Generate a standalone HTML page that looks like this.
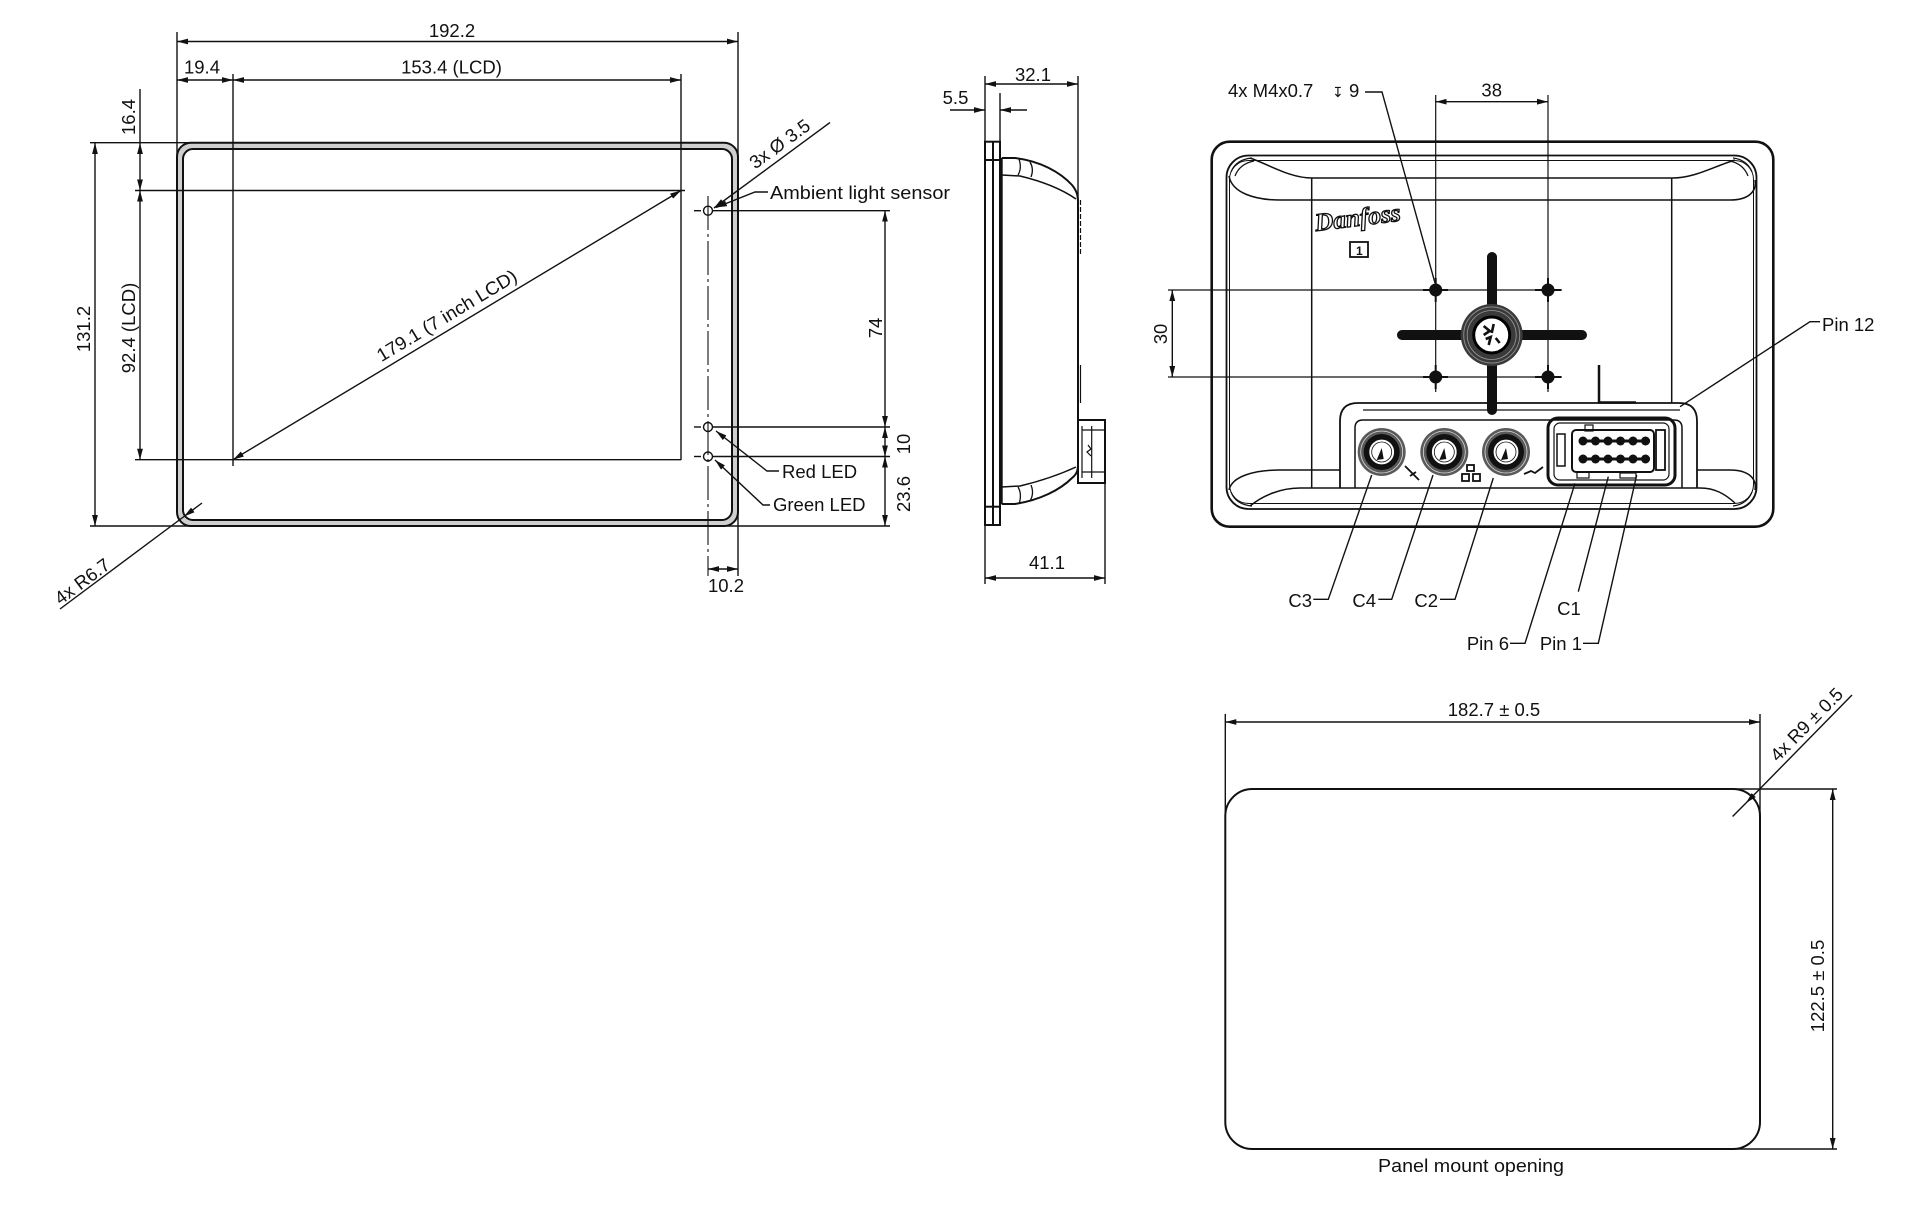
<!DOCTYPE html>
<html><head><meta charset="utf-8">
<style>
html,body{margin:0;padding:0;background:#fff;}
svg{display:block;}
text{font-family:"Liberation Sans",sans-serif;font-size:18.5px;fill:#111;}
</style></head><body>
<svg width="1920" height="1207" viewBox="0 0 1920 1207" xmlns="http://www.w3.org/2000/svg">
<defs>
<marker id="ar" viewBox="0 0 11 7" refX="11" refY="3.5" markerWidth="11" markerHeight="7" markerUnits="userSpaceOnUse" orient="auto-start-reverse">
<path d="M0,0.6 L11,3.5 L0,6.4 Z" fill="#111"/>
</marker>
</defs>
<rect width="1920" height="1207" fill="#fff"/>

<!-- ================= FRONT VIEW ================= -->
<path fill-rule="evenodd" fill="#cfcfcf" stroke="#111" stroke-width="2"
 d="M191,142.7 H724 A14,14 0 0 1 738,156.7 V512 A14,14 0 0 1 724,526 H191 A14,14 0 0 1 177,512 V156.7 A14,14 0 0 1 191,142.7 Z
    M193,149 H722 A10,10 0 0 1 732,159 V510 A10,10 0 0 1 722,520 H193 A10,10 0 0 1 183,510 V159 A10,10 0 0 1 193,149 Z"/>

<g fill="none" stroke="#111" stroke-width="1.4">
 <line x1="177" y1="32" x2="177" y2="160"/>
 <line x1="738" y1="32" x2="738" y2="160"/>
 <line x1="738" y1="505" x2="738" y2="576"/>
 <line x1="90" y1="142.7" x2="190" y2="142.7"/>
 <line x1="90" y1="526" x2="192" y2="526"/>
 <line x1="722" y1="526" x2="890" y2="526"/>
 <line x1="140" y1="89" x2="140" y2="143"/>
 <line x1="233" y1="74" x2="233" y2="466"/>
 <line x1="681" y1="74" x2="681" y2="460"/>
 <line x1="135" y1="190.5" x2="685" y2="190.5"/>
 <line x1="135" y1="459.7" x2="681" y2="459.7"/>
 <line x1="713" y1="210.7" x2="890" y2="210.7"/>
 <line x1="713" y1="427" x2="890" y2="427"/>
 <line x1="713" y1="456.5" x2="890" y2="456.5"/>
 <line x1="708" y1="196" x2="708" y2="576" stroke-dasharray="34 4 3 4" stroke-width="1.1"/>
 <line x1="694" y1="210.7" x2="701" y2="210.7"/>
 <line x1="694" y1="427" x2="701" y2="427"/>
 <line x1="694" y1="456.5" x2="701" y2="456.5"/>
 <circle cx="708" cy="210.7" r="4.5"/>
 <circle cx="708" cy="427" r="4.5"/>
 <circle cx="708" cy="456.5" r="4.5"/>

 <line x1="177" y1="41.5" x2="738" y2="41.5" marker-start="url(#ar)" marker-end="url(#ar)"/>
 <line x1="177" y1="80" x2="233" y2="80" marker-start="url(#ar)" marker-end="url(#ar)"/>
 <line x1="233" y1="80" x2="681" y2="80" marker-start="url(#ar)" marker-end="url(#ar)"/>
 <line x1="140" y1="143" x2="140" y2="190.5" marker-start="url(#ar)" marker-end="url(#ar)"/>
 <line x1="140" y1="190.5" x2="140" y2="459.7" marker-start="url(#ar)" marker-end="url(#ar)"/>
 <line x1="95" y1="143" x2="95" y2="526" marker-start="url(#ar)" marker-end="url(#ar)"/>
 <line x1="233" y1="459.7" x2="681" y2="190.5" marker-start="url(#ar)" marker-end="url(#ar)"/>
 <line x1="885" y1="210.7" x2="885" y2="427" marker-start="url(#ar)" marker-end="url(#ar)"/>
 <line x1="885" y1="427" x2="885" y2="456.5" marker-start="url(#ar)" marker-end="url(#ar)"/>
 <line x1="885" y1="456.5" x2="885" y2="526" marker-start="url(#ar)" marker-end="url(#ar)"/>
 <line x1="708" y1="569" x2="738" y2="569" marker-start="url(#ar)" marker-end="url(#ar)"/>

 <line x1="202" y1="503" x2="184" y2="516.5" marker-end="url(#ar)"/>
 <line x1="184" y1="516.5" x2="60" y2="609"/>
 <line x1="830" y1="122.5" x2="714" y2="208" marker-end="url(#ar)"/>
 <polyline points="768,192 755,192 716,207.5" marker-end="url(#ar)"/>
 <polyline points="779,471 767,471 716,431" marker-end="url(#ar)"/>
 <polyline points="770,505 763,505 715,460" marker-end="url(#ar)"/>
</g>

<text x="452" y="37" text-anchor="middle">192.2</text>
<text x="202" y="73.5" text-anchor="middle">19.4</text>
<text x="451.5" y="73.5" text-anchor="middle">153.4 (LCD)</text>
<text transform="translate(135,117) rotate(-90)" text-anchor="middle">16.4</text>
<text transform="translate(135,328) rotate(-90)" text-anchor="middle">92.4 (LCD)</text>
<text transform="translate(90,329) rotate(-90)" text-anchor="middle">131.2</text>
<text transform="translate(450,321) rotate(-31.07)" text-anchor="middle" textLength="160" lengthAdjust="spacingAndGlyphs">179.1 (7 inch LCD)</text>
<text transform="translate(86,586.5) rotate(-36.7)" text-anchor="middle">4x R6.7</text>
<text transform="translate(783.5,149) rotate(-36.1)" text-anchor="middle">3x Ø 3.5</text>
<text x="770" y="199" textLength="180" lengthAdjust="spacingAndGlyphs">Ambient light sensor</text>
<text transform="translate(882,328) rotate(-90)" text-anchor="middle">74</text>
<text transform="translate(910,444) rotate(-90)" text-anchor="middle">10</text>
<text transform="translate(910,494) rotate(-90)" text-anchor="middle">23.6</text>
<text x="782" y="478">Red LED</text>
<text x="773" y="511">Green LED</text>
<text x="726" y="592" text-anchor="middle">10.2</text>

<!-- ================= SIDE VIEW ================= -->
<g fill="none" stroke="#111" stroke-width="1.4">
 <line x1="985" y1="76" x2="985" y2="584"/>
 <line x1="1000" y1="93" x2="1000" y2="141.7"/>
 <line x1="1078" y1="76" x2="1078" y2="200"/>
 <line x1="1105" y1="483" x2="1105" y2="584"/>
 <line x1="985" y1="84" x2="1078" y2="84" marker-start="url(#ar)" marker-end="url(#ar)"/>
 <line x1="950" y1="110" x2="985" y2="110" marker-end="url(#ar)"/>
 <line x1="1027" y1="110" x2="1000" y2="110" marker-end="url(#ar)"/>
 <line x1="985" y1="578" x2="1105" y2="578" marker-start="url(#ar)" marker-end="url(#ar)"/>
</g>
<g fill="none" stroke="#111" stroke-width="2">
 <rect x="985" y="141.7" width="15" height="383.3"/>
 <line x1="993" y1="141.7" x2="993" y2="525"/>
 <line x1="985" y1="160" x2="1000" y2="160"/>
 <line x1="985" y1="506.7" x2="1000" y2="506.7"/>
 <line x1="1001.7" y1="158" x2="1001.7" y2="504"/>
 <path d="M1001.7,158 L1015,158 C1040,161 1060,172 1072,185 C1077,191 1078,196 1078,202 L1078,465 C1078,470 1077,474 1072,478 C1060,490 1040,500 1015,504 L1001.7,504"/>
 <path d="M1001.7,175 L1020,176 C1045,182 1063,190 1076,199" stroke-width="1.5"/>
 <path d="M1001.7,487 L1020,486 C1045,480 1063,473 1076,467" stroke-width="1.5"/>
 <path d="M1019,159 C1021,165 1021,170 1018,175" stroke-width="1.3"/>
 <path d="M1030,162 C1033,167 1033,172 1031,177" stroke-width="1.3"/>
 <path d="M1019,504 C1021,498 1021,492 1018,487" stroke-width="1.3"/>
 <path d="M1030,501 C1033,496 1033,490 1031,485" stroke-width="1.3"/>
 <line x1="1080.5" y1="200" x2="1080.5" y2="256" stroke-width="1.2" stroke-dasharray="5 2"/>
 <line x1="1080.5" y1="365" x2="1080.5" y2="403" stroke-width="1.2"/>
 <rect x="1078" y="420" width="27" height="63"/>
 <line x1="1082" y1="426" x2="1082" y2="478" stroke-width="1.2"/>
 <line x1="1091.7" y1="426" x2="1091.7" y2="478" stroke-width="1.2"/>
 <line x1="1082" y1="430" x2="1105" y2="430" stroke-width="1.2"/>
 <line x1="1082" y1="472" x2="1105" y2="472" stroke-width="1.2"/>
 <path d="M1088,445 L1091,449 L1087,452 L1091,456" stroke-width="1.2"/>
</g>
<text x="1033" y="81" text-anchor="middle">32.1</text>
<text x="955.5" y="104" text-anchor="middle">5.5</text>
<text x="1047" y="569" text-anchor="middle">41.1</text>

<!-- ================= BACK VIEW ================= -->
<g fill="none" stroke="#111">
 <rect x="1211.7" y="141.7" width="561.6" height="385" rx="18" stroke-width="2.6"/>
 <rect x="1226.5" y="155.5" width="530" height="353.5" rx="22" stroke-width="1.8"/>
 <rect x="1229.5" y="160.5" width="524" height="343" rx="19" stroke-width="1"/>
 <path d="M1250,158 C1270,165 1290,178 1312,178 L1672,178 C1695,178 1715,166 1735,160" stroke-width="1.5"/>
 <path d="M1229,176 C1232,193 1255,200 1280,200 L1730,200 C1748,200 1757,192 1755,180" stroke-width="1.5"/>
 <path d="M1231,172 C1234,164 1241,159 1252,158 M1235,176 C1238,168 1244,163 1254,161" stroke-width="1.2"/>
 <path d="M1752,172 C1749,164 1742,159 1733,158 M1748,176 C1745,168 1739,163 1730,161" stroke-width="1.2"/>
 <path d="M1229,490 C1232,476 1255,470 1280,470 L1340,470" stroke-width="1.5"/>
 <path d="M1697,470 L1730,470 C1748,470 1757,478 1755,490" stroke-width="1.5"/>
 <path d="M1250,506 C1262,496 1280,488 1300,488 L1700,488 C1715,488 1725,494 1735,503" stroke-width="1.5"/>
 <path d="M1231,492 C1234,500 1241,505 1252,506" stroke-width="1.2"/>
 <path d="M1752,492 C1749,500 1742,505 1733,506" stroke-width="1.2"/>
 <line x1="1311.7" y1="178" x2="1311.7" y2="488" stroke-width="1.5"/>
 <line x1="1671.7" y1="178" x2="1671.7" y2="403" stroke-width="1.5"/>
 <line x1="1168" y1="290" x2="1562" y2="290" stroke-width="1.2"/>
 <line x1="1168" y1="377" x2="1562" y2="377" stroke-width="1.2"/>
 <line x1="1435.7" y1="95" x2="1435.7" y2="392" stroke-width="1.2"/>
 <line x1="1548" y1="95" x2="1548" y2="392" stroke-width="1.2"/>
 <line x1="1435.7" y1="101.7" x2="1548" y2="101.7" stroke-width="1.4" marker-start="url(#ar)" marker-end="url(#ar)"/>
 <line x1="1172.3" y1="290" x2="1172.3" y2="377" stroke-width="1.4" marker-start="url(#ar)" marker-end="url(#ar)"/>
 <polyline points="1599,365 1599,402.5 1636,402.5" stroke-width="2.5"/>
</g>
<g fill="#111" stroke="#111" stroke-width="2">
 <circle cx="1435.7" cy="290" r="5.5"/>
 <circle cx="1548" cy="290" r="5.5"/>
 <circle cx="1435.7" cy="377" r="5.5"/>
 <circle cx="1548" cy="377" r="5.5"/>
 <path d="M1423,290 H1448 M1435.7,278 V302 M1535,290 H1561 M1548,278 V302 M1423,377 H1448 M1435.7,365 V389 M1535,377 H1561 M1548,365 V389"/>
</g>
<rect x="1397" y="330" width="190" height="10" rx="5" fill="#111"/>
<rect x="1487" y="252" width="10" height="163" rx="5" fill="#111"/>
<g transform="translate(1491.7,335)">
 <circle r="31" fill="#3a3a3a"/>
 <circle r="28" fill="none" stroke="#8a8a8a" stroke-width="1"/>
 <circle r="24.5" fill="none" stroke="#9a9a9a" stroke-width="0.8"/>
 <circle r="18" fill="#fff" stroke="#000" stroke-width="3"/>
 <path d="M-8,-9 L-2,-4 L-8,0 M2,-11 L0,-2 M-6,4 L-1,2 L-3,10 M4,3 L8,8" stroke="#111" stroke-width="2.6" fill="none"/>
</g>
<text x="1316" y="231" transform="rotate(-7 1316 231)" style="font-family:'Liberation Serif',serif;font-style:italic;font-weight:bold;font-size:25px;fill:#fff;stroke:#111;stroke-width:1.3px" textLength="86" lengthAdjust="spacingAndGlyphs">Danfoss</text>
<rect x="1350" y="242" width="18" height="15" fill="none" stroke="#111" stroke-width="1.8"/>
<text x="1356" y="255" style="font-size:12px;font-weight:bold">1</text>

<g fill="none" stroke="#111">
 <path d="M1340,488 L1340,421 Q1340,403 1358,403 L1679,403 Q1697,403 1697,421 L1697,488" stroke-width="1.8"/>
 <path d="M1355,488 L1355,428 Q1355,420 1363,420 L1674,420 Q1682,420 1682,428 L1682,488" stroke-width="1.5"/>
 <line x1="1363" y1="410" x2="1680" y2="410" stroke-width="1.2"/>
</g>
<g>
 <g transform="translate(1381.7,452)">
  <circle r="24" fill="#5a5a5a"/><circle r="21" fill="none" stroke="#ddd" stroke-width="0.8"/>
  <circle r="18" fill="#111"/><circle r="13" fill="#fff" stroke="#111" stroke-width="1.2"/>
  <circle r="10" fill="none" stroke="#111" stroke-width="0.8"/>
  <path d="M-5,8 L0,-4 L2,7 Z" fill="#111"/>
 </g>
 <g transform="translate(1444.3,452)">
  <circle r="24" fill="#5a5a5a"/><circle r="21" fill="none" stroke="#ddd" stroke-width="0.8"/>
  <circle r="18" fill="#111"/><circle r="13" fill="#fff" stroke="#111" stroke-width="1.2"/>
  <circle r="10" fill="none" stroke="#111" stroke-width="0.8"/>
  <path d="M-5,8 L0,-4 L2,7 Z" fill="#111"/>
 </g>
 <g transform="translate(1506,452)">
  <circle r="24" fill="#5a5a5a"/><circle r="21" fill="none" stroke="#ddd" stroke-width="0.8"/>
  <circle r="18" fill="#111"/><circle r="13" fill="#fff" stroke="#111" stroke-width="1.2"/>
  <circle r="10" fill="none" stroke="#111" stroke-width="0.8"/>
  <path d="M-5,8 L0,-4 L2,7 Z" fill="#111"/>
 </g>
</g>
<g fill="none" stroke="#111" stroke-width="1.8">
 <path d="M1405,466 L1413,474 L1419,480 M1410,476 L1416,472"/>
 <rect x="1462" y="474" width="7" height="7"/><rect x="1473" y="474" width="7" height="7"/><rect x="1467" y="465" width="7" height="6"/>
 <path d="M1524,474 L1531,471 L1535,473 L1543,467"/>
</g>
<g fill="none" stroke="#111">
 <rect x="1548" y="418" width="127" height="67" rx="10" stroke-width="3"/>
 <rect x="1554" y="423" width="115" height="57" rx="6" stroke-width="1.2"/>
 <rect x="1557" y="434" width="8" height="32" stroke-width="1.5"/>
 <rect x="1656" y="430" width="9" height="40" stroke-width="1.8"/>
 <rect x="1572" y="430" width="82" height="42" rx="4" stroke-width="2"/>
 <rect x="1585" y="425" width="8" height="6" stroke-width="1.2"/>
 <rect x="1577" y="472" width="12" height="6" stroke-width="1.2"/>
 <rect x="1620" y="473" width="16" height="5" stroke-width="1.2"/>
 <line x1="1579" y1="441" x2="1650" y2="441" stroke-width="3"/>
 <line x1="1579" y1="459" x2="1650" y2="459" stroke-width="3"/>
</g>
<g fill="#111">
 <circle cx="1583" cy="441" r="4.5"/><circle cx="1595.5" cy="441" r="4.5"/><circle cx="1608" cy="441" r="4.5"/><circle cx="1620.5" cy="441" r="4.5"/><circle cx="1633" cy="441" r="4.5"/><circle cx="1645.5" cy="441" r="4.5"/>
 <circle cx="1583" cy="459" r="4.5"/><circle cx="1595.5" cy="459" r="4.5"/><circle cx="1608" cy="459" r="4.5"/><circle cx="1620.5" cy="459" r="4.5"/><circle cx="1633" cy="459" r="4.5"/><circle cx="1645.5" cy="459" r="4.5"/>
</g>
<g fill="none" stroke="#111" stroke-width="1.4">
 <polyline points="1365,92 1382,92 1435,283"/>
 <polyline points="1371.7,475 1328.3,599.3 1313.3,599.3"/>
 <polyline points="1433,475 1391.7,599.3 1378.3,599.3"/>
 <polyline points="1493.3,478 1455,599.3 1440,599.3"/>
 <polyline points="1575,483.3 1525,643.3 1510,643.3"/>
 <line x1="1608.3" y1="476.7" x2="1578.3" y2="591.7"/>
 <polyline points="1636.7,475 1598.3,643.3 1583,643.3"/>
 <polyline points="1680,406.7 1810,321.7 1820,321.7"/>
</g>
<text x="1228" y="97">4x M4x0.7</text>
<text x="1332" y="97" style="font-family:'DejaVu Sans',sans-serif;font-size:14px">↧</text>
<text x="1349" y="97">9</text>
<text x="1491.7" y="96.5" text-anchor="middle">38</text>
<text transform="translate(1167,334) rotate(-90)" text-anchor="middle">30</text>
<text x="1312" y="607" text-anchor="end">C3</text>
<text x="1376" y="607" text-anchor="end">C4</text>
<text x="1438" y="607" text-anchor="end">C2</text>
<text x="1569" y="615" text-anchor="middle">C1</text>
<text x="1509" y="650" text-anchor="end">Pin 6</text>
<text x="1582" y="650" text-anchor="end">Pin 1</text>
<text x="1822" y="331">Pin 12</text>

<!-- ================= PANEL MOUNT OPENING ================= -->
<g fill="none" stroke="#111">
 <rect x="1225.3" y="789" width="534.7" height="360" rx="27" stroke-width="2"/>
 <line x1="1225.3" y1="714" x2="1225.3" y2="816" stroke-width="1.4"/>
 <line x1="1760" y1="714" x2="1760" y2="816" stroke-width="1.4"/>
 <line x1="1733" y1="789" x2="1837" y2="789" stroke-width="1.4"/>
 <line x1="1733" y1="1149" x2="1837" y2="1149" stroke-width="1.4"/>
 <line x1="1225.3" y1="722" x2="1760" y2="722" stroke-width="1.4" marker-start="url(#ar)" marker-end="url(#ar)"/>
 <line x1="1832.7" y1="789" x2="1832.7" y2="1149" stroke-width="1.4" marker-start="url(#ar)" marker-end="url(#ar)"/>
 <line x1="1852" y1="695" x2="1746" y2="803" stroke-width="1.4" marker-end="url(#ar)"/>
 <line x1="1746" y1="803" x2="1732.6" y2="816.5" stroke-width="1.4"/>
</g>
<text x="1494" y="716" text-anchor="middle">182.7 ± 0.5</text>
<text transform="translate(1824,986) rotate(-90)" text-anchor="middle">122.5 ± 0.5</text>
<text transform="translate(1811,729) rotate(-45.4)" text-anchor="middle">4x R9 ± 0.5</text>
<text x="1471" y="1172" text-anchor="middle" textLength="186" lengthAdjust="spacingAndGlyphs">Panel mount opening</text>
</svg>
</body></html>
